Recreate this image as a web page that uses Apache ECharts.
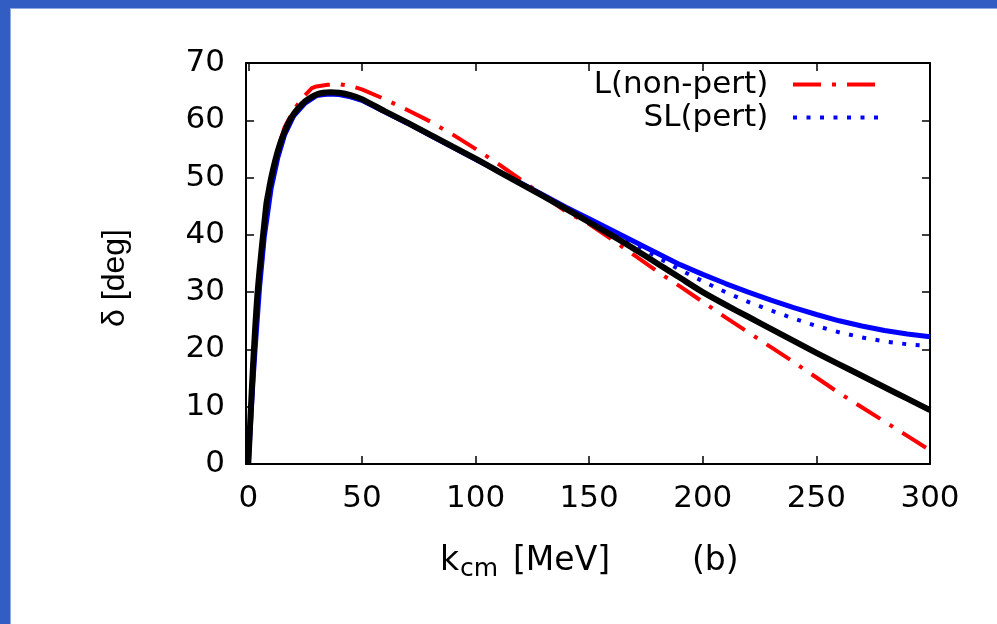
<!DOCTYPE html>
<html><head><meta charset="utf-8">
<script src="https://cdn.jsdelivr.net/npm/echarts@6/dist/echarts.min.js"></script>
<style>html,body{margin:0;padding:0;background:#fff}#c{width:997px;height:624px}</style>
</head><body><div id="c"></div>
<script>
// ---- data ----
const xTicks = [0, 50, 100, 150, 200, 250, 300];
const legendNames = ['L(non-pert)', 'SL(pert)'];

const kBlack = [0,1,2,3,4,5,6,7,8,9,10,12,14,16,18,20,22,25,28,30,33,36,40,45,50,60,70,80,90,100,110,120,130,140,150,160,170,180,190,200,210,220,230,240,250,260,270,280,290,300];
const deltaBlack = [0,8.5,16.5,23.5,29.5,34,38,41.8,45.5,47.7,49.8,53.2,55.9,58,59.8,61.1,62.1,63.3,64.1,64.5,64.8,64.9,64.8,64.4,63.7,61.6,59.6,57.5,55.4,53.3,51.1,48.9,46.7,44.5,42.2,39.9,37.5,35,32.5,30,27.8,25.7,23.6,21.5,19.4,17.4,15.4,13.4,11.4,9.4];

const kRed = [0,1,2,3,5,7,10,13,16,20,24,28,30,35,40,45,50,60,70,80,90,100,110,120,130,140,150,160,170,180,190,200,210,220,230,240,250,260,270,280,290,300];
const deltaRed = [0,8.5,16.5,23.5,34,41.5,50,55,58.8,61.8,64,65.6,65.9,66.2,66.3,66,65.4,63.7,61.8,59.8,57.5,55,52.4,49.6,46.8,44,41.9,39.2,36.4,33.6,31,28.3,25.6,23,20.4,17.8,15.1,12.4,9.9,7.4,4.9,2.4];

const kBlue = [0,1,2,3,5,7,10,13,16,20,25,30,35,40,45,50,60,70,80,90,100,110,120,130,140,150,160,170,180,190,200,210,220,230,240,250,260,270,280,290,300];
const deltaBlueSolid = [0,7,14,20,31,39.5,48,53.5,57.5,60.8,63,64.3,64.6,64.5,64.1,63.5,61.5,59.5,57.4,55.3,53.2,51.1,49,46.9,44.8,42.8,40.8,38.8,36.8,34.8,33.1,31.5,30,28.6,27.3,26.1,25,24.1,23.3,22.7,22.2];
const deltaBlueDotted = [0,7,14,20,31,39.5,48,53.5,57.5,60.8,63,64.3,64.6,64.5,64.1,63.5,61.5,59.5,57.4,55.3,53.2,51.1,49,46.9,44.8,42.7,40.6,38.4,36.1,33.9,31.9,30,28.3,26.8,25.4,24.1,23,22.1,21.4,20.9,20.6];

function pairs(xs, ys) { return xs.map((x, i) => [x, ys[i]]); }

const FONT = 'DejaVu Sans';
const chart = echarts.init(document.getElementById('c'), null, {renderer: 'canvas'});

const axisCommon = {
  type: 'value',
  axisLine: {show: true, onZero: false, lineStyle: {color: '#000', width: 2}},
  axisTick: {show: true, inside: true, length: 8, lineStyle: {color: '#000', width: 1.5}},
  splitLine: {show: false}
};

chart.setOption({
  animation: false,
  backgroundColor: '#fff',
  grid: {left: 246, top: 63, width: 684, height: 401, containLabel: false},
  xAxis: [
    Object.assign({}, axisCommon, {
      position: 'bottom', min: -1, max: 300,
      axisTick: Object.assign({}, axisCommon.axisTick, {customValues: xTicks}),
      axisLabel: {show: true, customValues: xTicks, margin: 19, color: '#000', fontFamily: FONT, fontSize: 31}
    }),
    Object.assign({}, axisCommon, {
      position: 'top', min: -1, max: 300,
      axisTick: Object.assign({}, axisCommon.axisTick, {customValues: xTicks}),
      axisLabel: {show: false}
    })
  ],
  yAxis: [
    Object.assign({}, axisCommon, {
      position: 'left', min: 0, max: 70, interval: 10,
      axisLabel: {show: true, margin: 21, color: '#000', fontFamily: FONT, fontSize: 31}
    }),
    Object.assign({}, axisCommon, {
      position: 'right', min: 0, max: 70, interval: 10,
      axisLabel: {show: false}
    })
  ],
  legend: {
    data: legendNames,
    orient: 'vertical',
    align: 'right',
    right: 114,
    top: 69,
    padding: 0,
    itemWidth: 88,
    itemHeight: 14,
    itemGap: 2,
    formatter: function (n) { return n + '  '; },
    textStyle: {color: '#000', fontFamily: FONT, fontSize: 31},
    itemStyle: {opacity: 0},
    lineStyle: {width: 4},
    selectedMode: false
  },
  series: [
    {
      name: legendNames[0], type: 'line', data: pairs(kRed, deltaRed),
      showSymbol: false, symbol: 'none',
      lineStyle: {color: '#ff0000', width: 4, type: [28, 11, 4, 11], cap: 'butt'},
      itemStyle: {color: '#ff0000'}
    },
    {
      name: legendNames[1], type: 'line', data: pairs(kBlue, deltaBlueDotted),
      showSymbol: false, symbol: 'none',
      lineStyle: {color: '#0000ff', width: 4, type: [4, 9.5], cap: 'butt'},
      itemStyle: {color: '#0000ff'}
    },
    {
      name: 'SL(full)', type: 'line', data: pairs(kBlue, deltaBlueSolid),
      showSymbol: false, symbol: 'none',
      lineStyle: {color: '#0000ff', width: 5},
      itemStyle: {color: '#0000ff'}
    },
    {
      name: 'exact', type: 'line', data: pairs(kBlack, deltaBlack),
      showSymbol: false, symbol: 'none', smooth: 0.2,
      lineStyle: {color: '#000000', width: 6},
      itemStyle: {color: '#000000'}
    }
  ],
  graphic: [
    {type: 'rect', silent: true, shape: {x: 0, y: 0, width: 997, height: 8}, style: {fill: '#325ec4'}},
    {type: 'rect', silent: true, shape: {x: 0, y: 0, width: 10, height: 624}, style: {fill: '#325ec4'}},
    {type: 'rect', silent: true, shape: {x: 10, y: 8, width: 1, height: 616}, style: {fill: '#8fa8e2'}},
    {type: 'rect', silent: true, shape: {x: 10, y: 8, width: 987, height: 1}, style: {fill: '#8fa8e2'}},
    {type: 'text', silent: true, x: 115, y: 278, rotation: Math.PI / 2,
      style: {text: 'δ [deg]', fill: '#000', font: '32px "Liberation Sans"', textAlign: 'center', textVerticalAlign: 'middle'}},
    {type: 'text', silent: true, x: 440, y: 561.5,
      style: {text: 'k', fill: '#000', font: '33px "DejaVu Sans"', textAlign: 'left', textVerticalAlign: 'middle'}},
    {type: 'text', silent: true, x: 460, y: 569.5,
      style: {text: 'cm', fill: '#000', font: '25px "DejaVu Sans"', textAlign: 'left', textVerticalAlign: 'middle'}},
    {type: 'text', silent: true, x: 513, y: 561.5,
      style: {text: '[MeV]', fill: '#000', font: '33px "DejaVu Sans"', textAlign: 'left', textVerticalAlign: 'middle'}},
    {type: 'text', silent: true, x: 692, y: 561.5,
      style: {text: '(b)', fill: '#000', font: '33px "DejaVu Sans"', textAlign: 'left', textVerticalAlign: 'middle'}}
  ]
});
</script>
</body></html>
